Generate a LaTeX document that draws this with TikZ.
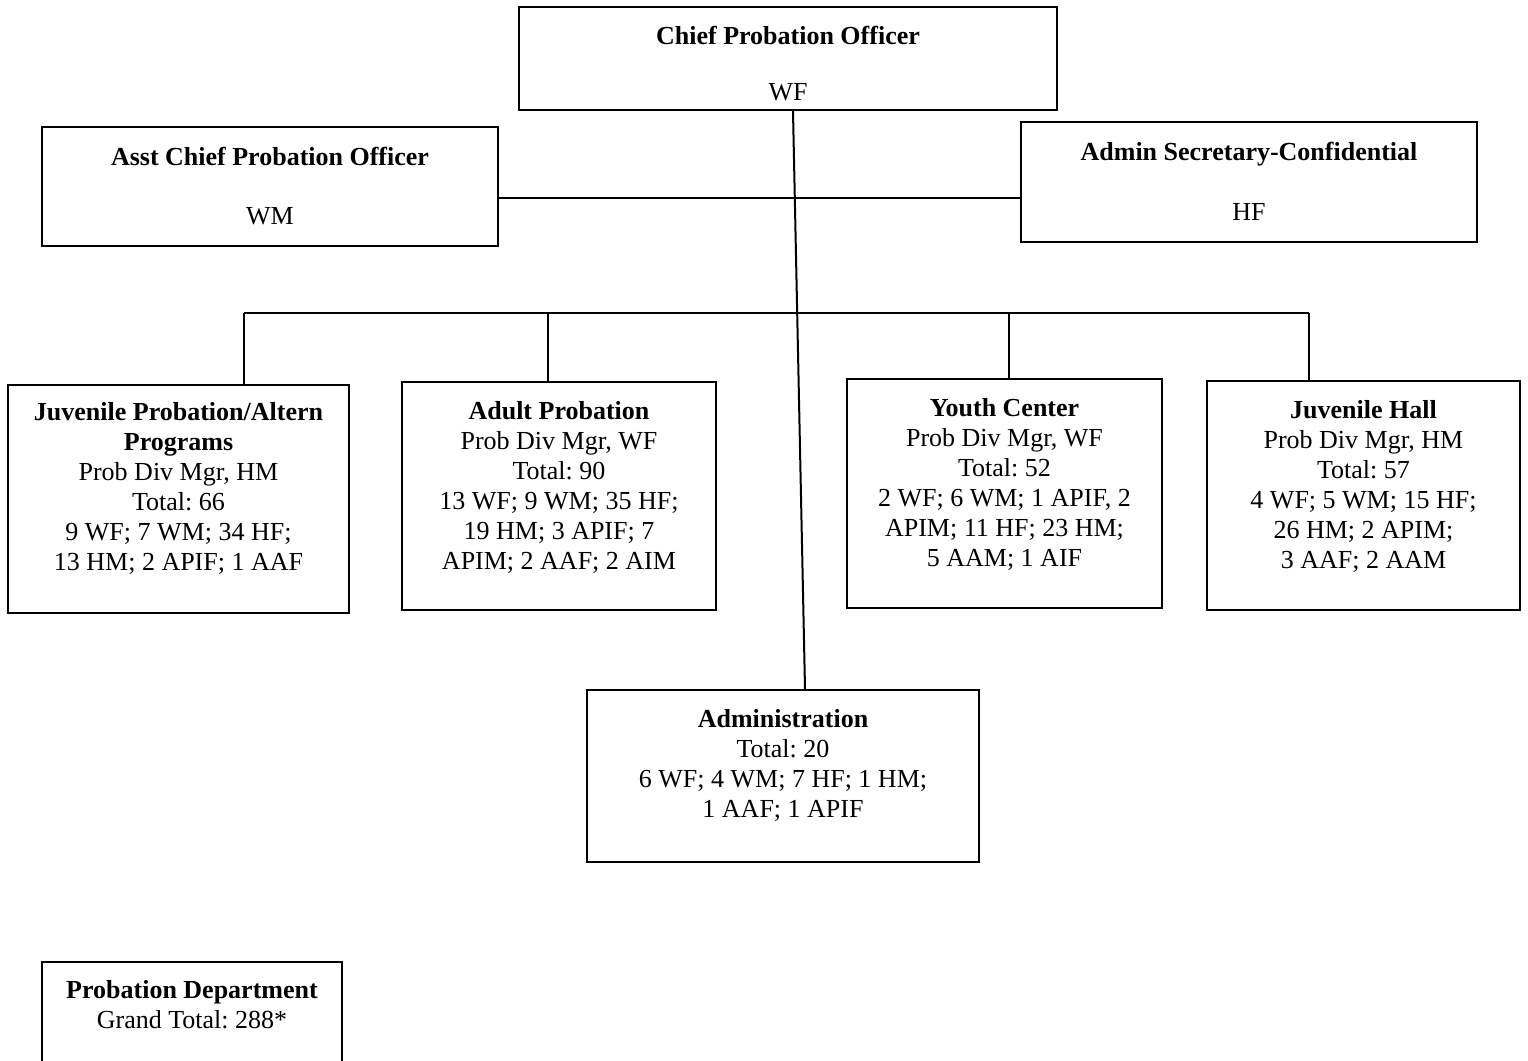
\documentclass[tikz,border=0pt]{standalone}
\usepackage{fontspec}
\setmainfont{Liberation Serif}
\frenchspacing
\usetikzlibrary{calc}

\begin{document}
\begin{tikzpicture}[x=0.5pt, y=-0.5pt,
    box/.style={draw, line width=1.2pt, inner sep=0pt},
    txt/.style={anchor=north, align=center, inner sep=0pt, font=\fontsize{13}{15}\selectfont},
    wire/.style={draw, line width=1pt}]
\useasboundingbox (0,0) rectangle (1528,1061);

% boxes
\node[box, minimum width=269pt, minimum height=51.5pt] (chief) at (788,58.5) {};
\node[box, minimum width=228pt, minimum height=59.5pt] (asst) at (270,186.5) {};
\node[box, minimum width=228pt, minimum height=60pt] (admin) at (1249,182) {};
\node[box, minimum width=170.5pt, minimum height=114pt] (juv) at (178.5,499) {};
\node[box, minimum width=157pt, minimum height=114pt] (adult) at (559,496) {};
\node[box, minimum width=157.5pt, minimum height=114.5pt] (youth) at (1004.5,493.5) {};
\node[box, minimum width=156.5pt, minimum height=114.5pt] (hall) at (1363.5,495.5) {};
\node[box, minimum width=196pt, minimum height=86pt] (admn) at (783,776) {};
\node[box, minimum width=150pt, minimum height=56.5pt] (dept) at (192,1018.5) {};

% texts
\node[txt] (chiefT) at (788,26) {\textbf{Chief Probation Officer}\\[13pt] WF};
\node[txt] (asstT) at (270,147) {\textbf{Asst Chief Probation Officer}\\[14.5pt] WM};
\node[txt] (adminT) at (1249,142) {\textbf{Admin Secretary-Confidential}\\[15pt] HF};
\node[txt] (juvT) at (178.5,402.5) {\textbf{Juvenile Probation/Altern}\\ \textbf{Programs}\\ Prob Div Mgr, HM\\ Total: 66\\ 9 WF; 7 WM; 34 HF;\\ 13 HM; 2 APIF; 1 AAF};
\node[txt] (adultT) at (559,401) {\textbf{Adult Probation}\\ Prob Div Mgr, WF\\ Total: 90\\ 13 WF; 9 WM; 35 HF;\\ 19 HM; 3 APIF; 7\\ APIM; 2 AAF; 2 AIM};
\node[txt] (youthT) at (1004.5,398) {\textbf{Youth Center}\\ Prob Div Mgr, WF\\ Total: 52\\ 2 WF; 6 WM; 1 APIF, 2\\ APIM; 11 HF; 23 HM;\\ 5 AAM; 1 AIF};
\node[txt] (hallT) at (1363.5,400) {\textbf{Juvenile Hall}\\ Prob Div Mgr, HM\\ Total: 57\\ 4 WF; 5 WM; 15 HF;\\ 26 HM; 2 APIM;\\ 3 AAF; 2 AAM};
\node[txt] (admnT) at (783,709) {\textbf{Administration}\\ Total: 20\\ 6 WF; 4 WM; 7 HF; 1 HM;\\ 1 AAF; 1 APIF};
\node[txt] (deptT) at (192,980) {\textbf{Probation Department}\\ Grand Total: 288*};

% connectors
\coordinate (bus) at (0,313);
\path[wire] ([xshift=2.5pt]chief.south) -- ([xshift=11pt]admn.north);
\path[wire] ([yshift=-5.75pt]asst.east) -- ([yshift=-8pt]admin.west);
\path[wire] ([xshift=32.75pt]juv.north |- bus) -- ([xshift=-27.25pt]hall.north |- bus);
\path[wire] ([xshift=32.75pt]juv.north) -- ([xshift=32.75pt]juv.north |- bus);
\path[wire] ([xshift=-5.5pt]adult.north) -- ([xshift=-5.5pt]adult.north |- bus);
\path[wire] ([xshift=2.25pt]youth.north) -- ([xshift=2.25pt]youth.north |- bus);
\path[wire] ([xshift=-27.25pt]hall.north) -- ([xshift=-27.25pt]hall.north |- bus);
\end{tikzpicture}
\end{document}
